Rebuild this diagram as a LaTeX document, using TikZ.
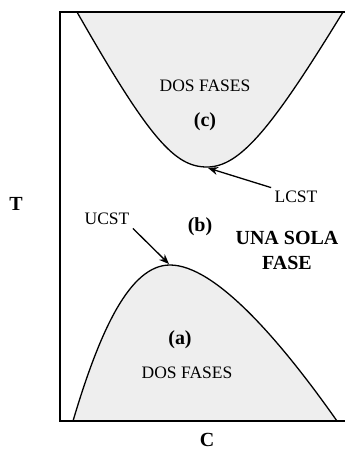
\documentclass[tikz,border=0pt]{standalone}
\usepackage{fontspec}
\setmainfont{Liberation Serif}
\usetikzlibrary{arrows.meta}

\begin{document}
\begin{tikzpicture}[x=1pt, y=-1pt, >={Stealth[length=10pt,width=8pt]},
  phase/.style={fill=gray!13, draw=black, line width=1.3pt},
  lbl/.style={font=\fontsize{17.5}{20}\selectfont},
  bold lbl/.style={font=\fontsize{20}{25}\selectfont\bfseries, align=center}]

  \useasboundingbox (0,0) rectangle (345,451);

  % zona de dos fases superior (LCST)
  \draw[phase] (77,12) .. controls (150,140) and (175,167) .. (207,167)
    .. controls (240,167) and (272,128) .. (343,12) -- cycle;
  % zona de dos fases inferior (UCST)
  \draw[phase] (73,421) .. controls (100,330) and (130,265) .. (170,265)
    .. controls (215,265) and (280,340) .. (337,421) -- cycle;

  % ejes
  \draw[line width=2pt] (345,12) -- (60,12) -- (60,421) -- (345,421);

  \coordinate (lcst) at (208,168);
  \coordinate (ucst) at (169,264);

  \node[lbl] (dosc) at (205,86) {DOS FASES};
  \node[bold lbl] (c) at (205,122) {(c)};
  \node[bold lbl] (b) at (200,227) {(b)};
  \node[bold lbl] (una) at (287,250) {UNA SOLA\\FASE};
  \node[bold lbl] (a) at (180,340) {(a)};
  \node[lbl] (dosa) at (187,373) {DOS FASES};

  \node[lbl] (lcstlbl) at (296,197) {LCST};
  \node[lbl] (ucstlbl) at (107,219) {UCST};
  \draw[->, line width=1.3pt] (lcstlbl.north west) -- (lcst);
  \draw[->, line width=1.3pt] (ucstlbl.south east) -- (ucst);

  \node[bold lbl] (T) at (16,204) {T};
  \node[bold lbl] (C) at (207,440) {C};

\end{tikzpicture}
\end{document}
